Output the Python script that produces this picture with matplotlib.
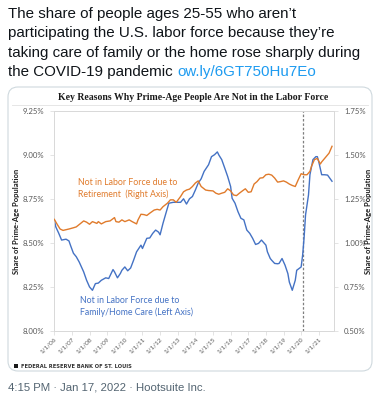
import pandas as pd
import matplotlib
matplotlib.use("Agg")
import matplotlib.pyplot as plt
from matplotlib.patches import FancyBboxPatch, Rectangle
from matplotlib.lines import Line2D
from matplotlib.transforms import IdentityTransform

# tweet text
tweet_lines = [
    "The share of people ages 25-55 who aren\u2019t",
    "participating the U.S. labor force because they\u2019re",
    "taking care of family or the home rose sharply during",
]
tweet_last = "the COVID-19 pandemic "
tweet_link = "ow.ly/6GT750Hu7Eo"
tweet_meta = "4:15 PM \u00b7 Jan 17, 2022 \u00b7 Hootsuite Inc."

chart_title = "Key Reasons Why Prime-Age People Are Not in the Labor Force"
y_label = "Share of Prime-Age Population"
source = "FEDERAL RESERVE BANK OF ST. LOUIS"

# family/home care, left axis (%)
fam_dates = ["2006-01", "2006-02", "2006-04", "2006-06", "2006-09", "2006-11", "2006-12",
             "2007-02", "2007-04", "2007-06", "2007-09", "2007-11", "2008-01", "2008-03",
             "2008-05", "2008-07", "2008-09", "2008-12", "2009-02", "2009-05", "2009-06",
             "2009-08", "2009-10", "2009-11", "2010-01", "2010-03", "2010-05", "2010-07",
             "2010-09", "2010-12", "2011-01", "2011-04", "2011-06", "2011-08", "2011-10",
             "2011-12", "2012-01", "2012-03", "2012-05", "2012-07", "2012-10", "2012-12",
             "2013-03", "2013-05", "2013-07", "2013-09", "2013-11", "2014-01", "2014-03",
             "2014-05", "2014-07", "2014-10", "2014-12", "2015-02", "2015-04", "2015-05",
             "2015-07", "2015-09", "2015-11", "2016-01", "2016-02", "2016-04", "2016-06",
             "2016-08", "2016-10", "2016-12", "2017-02", "2017-04", "2017-06", "2017-08",
             "2017-10", "2018-01", "2018-02", "2018-04", "2018-05", "2018-07", "2018-09",
             "2018-10", "2018-12", "2019-02", "2019-04", "2019-05", "2019-07", "2019-09",
             "2019-10", "2020-01", "2020-02", "2020-03", "2020-04", "2020-06", "2020-07",
             "2020-09", "2020-11", "2020-12", "2021-01", "2021-03", "2021-05", "2021-07",
             "2021-10"]
fam_vals = [8.63, 8.59, 8.555, 8.515, 8.52, 8.51, 8.486,
            8.44, 8.42, 8.39, 8.334, 8.286, 8.248, 8.229,
            8.267, 8.27, 8.286, 8.30, 8.296, 8.347, 8.334,
            8.30, 8.325, 8.343, 8.362, 8.34, 8.356, 8.40,
            8.448, 8.486, 8.467, 8.525, 8.527, 8.553, 8.572,
            8.56, 8.545, 8.61, 8.668, 8.725, 8.73, 8.73,
            8.73, 8.75, 8.72, 8.75, 8.763, 8.80, 8.84,
            8.864, 8.906, 8.944, 8.99, 9.001, 9.017, 9.00,
            8.973, 8.925, 8.877, 8.82, 8.753, 8.725, 8.677,
            8.639, 8.63, 8.572, 8.553, 8.525, 8.49, 8.496,
            8.515, 8.486, 8.448, 8.41, 8.40, 8.382, 8.38,
            8.382, 8.41, 8.372, 8.324, 8.276, 8.229, 8.286,
            8.343, 8.362, 8.43, 8.525, 8.658, 8.772, 8.887,
            8.973, 8.99, 8.99, 8.96, 8.887, 8.887, 8.885,
            8.85]

# retirement, right axis (%)
ret_dates = ["2006-01", "2006-03", "2006-05", "2006-07", "2006-11", "2007-02", "2007-04",
             "2007-07", "2007-09", "2007-11", "2008-01", "2008-03", "2008-06", "2008-07",
             "2008-09", "2008-12", "2009-03", "2009-06", "2009-07", "2009-09", "2009-11",
             "2010-01", "2010-04", "2010-06", "2010-09", "2010-10", "2010-12", "2011-02",
             "2011-04", "2011-06", "2011-09", "2011-11", "2012-01", "2012-03", "2012-06",
             "2012-08", "2012-10", "2012-12", "2013-03", "2013-05", "2013-07", "2013-09",
             "2013-11", "2014-01", "2014-03", "2014-05", "2014-08", "2014-10", "2015-01",
             "2015-03", "2015-05", "2015-07", "2015-09", "2015-11", "2016-01", "2016-03",
             "2016-05", "2016-07", "2016-09", "2016-11", "2017-01", "2017-03", "2017-05",
             "2017-07", "2017-09", "2017-11", "2018-01", "2018-03", "2018-05", "2018-07",
             "2018-09", "2018-11", "2019-01", "2019-03", "2019-05", "2019-07", "2019-09",
             "2019-11", "2020-01", "2020-03", "2020-05", "2020-07", "2020-08", "2020-10",
             "2020-12", "2021-02", "2021-03", "2021-06", "2021-08", "2021-10"]
ret_vals = [1.133, 1.105, 1.078, 1.07, 1.078, 1.085, 1.09,
            1.11, 1.124, 1.117, 1.105, 1.12, 1.11, 1.12,
            1.107, 1.12, 1.124, 1.143, 1.12, 1.117, 1.13,
            1.12, 1.13, 1.12, 1.107, 1.13, 1.162, 1.16,
            1.155, 1.168, 1.186, 1.19, 1.186, 1.205, 1.225,
            1.244, 1.244, 1.23, 1.263, 1.29, 1.30, 1.305,
            1.32, 1.34, 1.352, 1.32, 1.30, 1.297, 1.295,
            1.282, 1.276, 1.282, 1.287, 1.307, 1.295, 1.272,
            1.268, 1.282, 1.295, 1.307, 1.287, 1.29, 1.334,
            1.348, 1.368, 1.37, 1.387, 1.39, 1.385, 1.368,
            1.345, 1.348, 1.352, 1.345, 1.334, 1.326, 1.32,
            1.358, 1.393, 1.387, 1.387, 1.406, 1.434, 1.473,
            1.48, 1.448, 1.46, 1.49, 1.51, 1.549]

left_ticks = [8.00, 8.25, 8.50, 8.75, 9.00, 9.25]
right_ticks = [0.50, 0.75, 1.00, 1.25, 1.50, 1.75]
tick_years = list(range(2006, 2022))
covid_start = "2020-02-15"

W, H = 377, 400
BLUE = "#4472C4"
ORANGE = "#E07B2C"
GRAY_TXT = "#595959"


def fy(y):
    return 1 - y / H


fig = plt.figure(figsize=(W / 100, H / 100), dpi=100)
fig.patch.set_facecolor("white")

# tweet text
sans = ["Liberation Sans", "DejaVu Sans"]
for i, line in enumerate(tweet_lines):
    fig.text(8 / W, fy(14 + i * 19.3), line, fontsize=10.9, family=sans,
             color="#0f1419", va="center", ha="left")
t = fig.text(8 / W, fy(14 + 3 * 19.3), tweet_last, fontsize=10.9, family=sans,
             color="#0f1419", va="center", ha="left")
fig.canvas.draw()
bb = t.get_window_extent()
fig.text(bb.x1 / W, fy(14 + 3 * 19.3), tweet_link, fontsize=10.9, family=sans,
         color="#1d9bf0", va="center", ha="left")

# card behind the chart
card = FancyBboxPatch((8, H - 371), 364, 284, boxstyle="round,pad=0,rounding_size=10",
                      transform=IdentityTransform(), facecolor="white",
                      edgecolor="#cfd9de", linewidth=0.8, zorder=-5)
fig.add_artist(card)
fig.add_artist(Line2D([12 / W, 368 / W], [fy(105), fy(105)], transform=fig.transFigure,
                      color="#e6e6e6", linewidth=0.7, zorder=-4))
fig.text(193 / W, fy(97), chart_title, fontsize=7.0, family=["Liberation Serif"],
         weight="bold", color="#1a1a1a", ha="center", va="center")

# plot area
ax = fig.add_axes([54.3 / W, fy(330.5), (333.5 - 54.3) / W, (330.5 - 111) / H])
ax2 = ax.twinx()
ax.patch.set_alpha(0)

fam_x = pd.to_datetime(fam_dates)
ret_x = pd.to_datetime(ret_dates)
ax.plot(fam_x, fam_vals, color=BLUE, linewidth=1.0, zorder=3)
ax2.plot(ret_x, ret_vals, color=ORANGE, linewidth=1.0, zorder=3)
ax.axvline(pd.Timestamp(covid_start), color="#7f7f7f", linestyle=(0, (2, 1.5)),
           linewidth=0.9, zorder=2)

ax.set_xlim(pd.Timestamp("2006-01-01"), pd.Timestamp("2021-11-01"))
ax.set_ylim(8.0, 9.25)
ax2.set_ylim(0.5, 1.75)
ax.set_yticks(left_ticks)
ax.set_yticklabels([f"{v:.2f}%" for v in left_ticks])
ax2.set_yticks(right_ticks)
ax2.set_yticklabels([f"{v:.2f}%" for v in right_ticks])
ax.set_xticks([pd.Timestamp(f"{y}-01-01") for y in tick_years])
ax.set_xticklabels([f"1/1/{y % 100:02d}" for y in tick_years], rotation=45,
                   ha="right", rotation_mode="anchor")

lato = ["Lato", "DejaVu Sans"]
for a in (ax, ax2):
    for s in a.spines.values():
        s.set_color("#d9d9d9")
        s.set_linewidth(0.6)
    a.tick_params(axis="y", length=3, width=0.5, color="#d9d9d9",
                  labelsize=5.6, labelcolor=GRAY_TXT, pad=4.5)
    for lab in a.get_yticklabels():
        lab.set_family(lato)
ax.tick_params(axis="x", length=3, width=0.5, color="#d9d9d9",
               labelsize=4.6, labelcolor=GRAY_TXT, pad=1)
for lab in ax.get_xticklabels():
    lab.set_family(lato)

fig.text(17 / W, fy(221), y_label, rotation=90, fontsize=5.5, weight="bold",
         family=lato, color="#1a1a1a", ha="center", va="center")
fig.text(369 / W, fy(221), y_label, rotation=90, fontsize=5.5, weight="bold",
         family=lato, color="#1a1a1a", ha="center", va="center")

ax.text(pd.Timestamp("2007-05-01"), 8.81, "Not in Labor Force due to\nRetirement  (Right Axis)",
        fontsize=6.3, family=lato, color=ORANGE, ha="left", va="center", linespacing=1.35)
ax.text(pd.Timestamp("2007-06-15"), 8.137, "Not in Labor Force due to\nFamily/Home Care (Left Axis)",
        fontsize=6.3, family=lato, color=BLUE, ha="left", va="center", linespacing=1.35)

# footer
fig.add_artist(Rectangle((14 / W, fy(368)), 4 / W, 4 / H, transform=fig.transFigure,
                         facecolor="#1a1a1a", edgecolor="none"))
fig.text(21 / W, fy(366), source, fontsize=3.7, weight="bold", family=["DejaVu Sans"],
         color="#333333", ha="left", va="center")

fig.text(8 / W, fy(388), tweet_meta, fontsize=8.2, family=sans, color="#536471",
         ha="left", va="center")

fig.savefig("out.png", dpi=100)
